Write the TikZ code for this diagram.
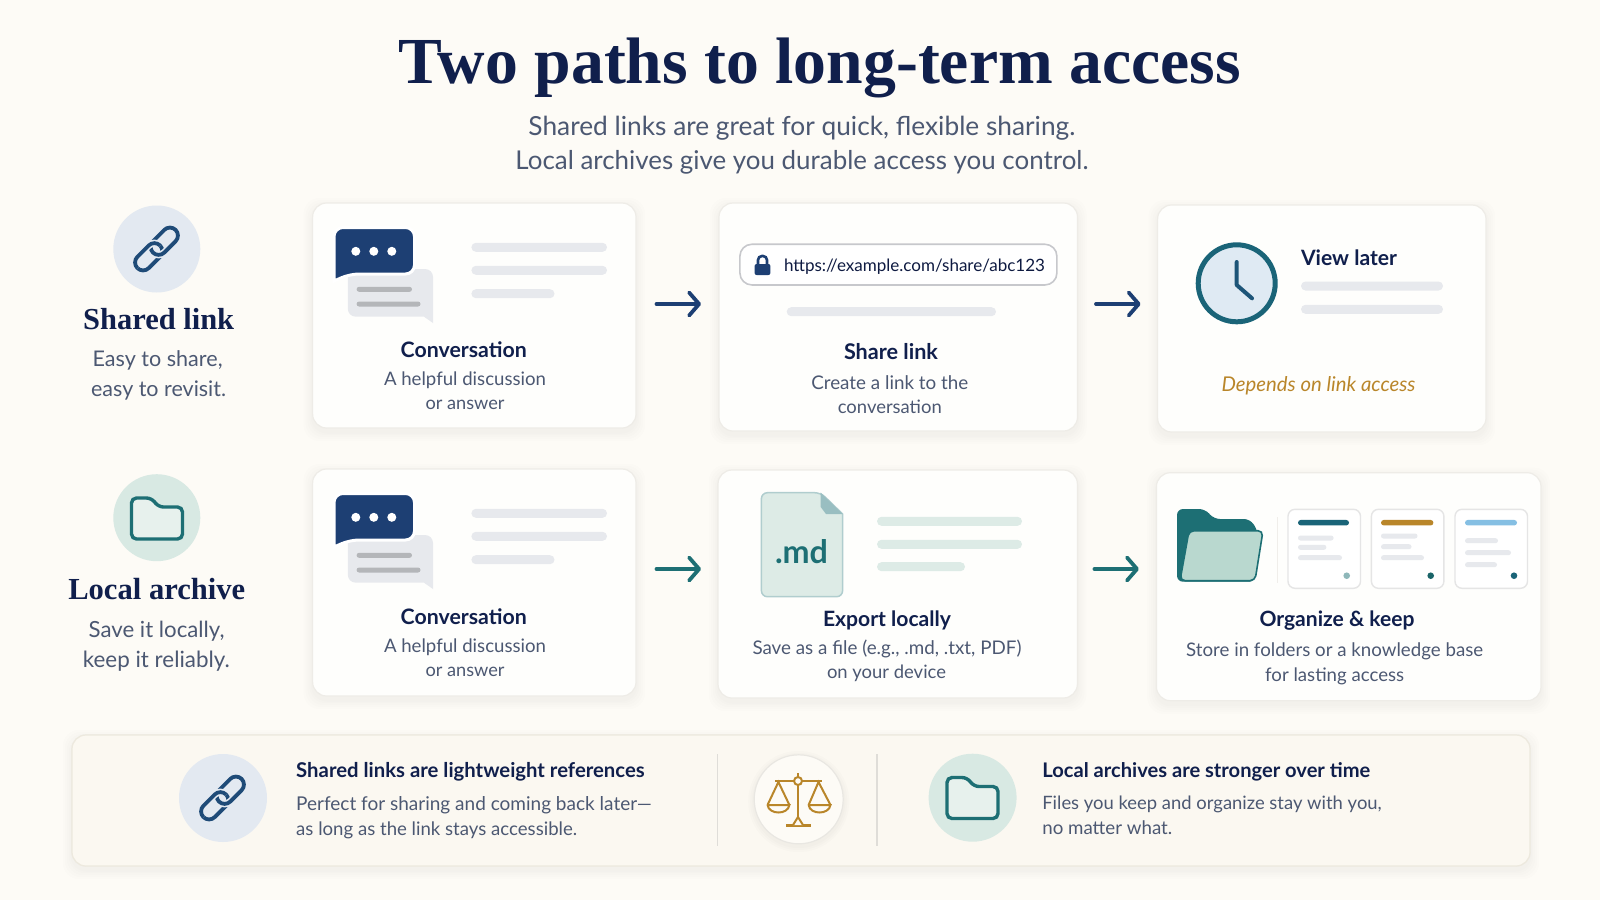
\documentclass[tikz,border=0pt]{standalone}
\usepackage{fontspec}
\usepackage{graphicx}
\usetikzlibrary{arrows.meta}
\setmainfont{Lato}
\newfontfamily\serifhead{Liberation Serif}
\definecolor{bgc}{HTML}{FDFBF6}
\definecolor{navy}{HTML}{101F4C}
\definecolor{bodyc}{HTML}{4C5872}
\definecolor{barc}{HTML}{E7E9ED}
\definecolor{tealbar}{HTML}{DDEBE6}
\definecolor{linkc}{HTML}{1F4B78}
\definecolor{circlink}{HTML}{E3E9F1}
\definecolor{circfold}{HTML}{D8E9E3}
\definecolor{teal}{HTML}{1D6F74}
\definecolor{bubble}{HTML}{1D3F73}
\definecolor{gold}{HTML}{B9862A}
\definecolor{clockc}{HTML}{1A6478}
\definecolor{clockfill}{HTML}{DFEAF3}
\definecolor{folderfront}{HTML}{B9D8CF}
\definecolor{skybar}{HTML}{85BFE3}
\definecolor{barfill}{HTML}{FBF8F1}
\definecolor{barline}{HTML}{EDE9DE}
\tikzset{
  cardbox/.style={draw=#1,fill=white!70!bgc,rounded corners=14pt,line width=1.2pt,inner sep=0pt,outer sep=0pt},
  cardbox/.default={black!6!bgc},
  labelnode/.style={inner sep=0pt,outer sep=0pt,font=\fontsize{20}{24}\selectfont},
  titletext/.style={labelnode,text=navy,font=\serifhead\bfseries\fontsize{20}{24}\selectfont},
  headtext/.style={labelnode,text=navy,font=\bfseries\fontsize{20}{24}\selectfont},
  bodytext/.style={labelnode,text=bodyc},
  flow/.style={-{Straight Barb[length=10pt,width=23pt,round]},line width=3.8pt,line cap=round},
  iconpill/.style={rounded corners=8pt,line width=3.8pt},
  scaleline/.style={draw=gold,line width=2.5pt}
}
\newcommand{\softcard}[5]{%
  \pgfmathsetmacro{\cw}{#4-#2}\pgfmathsetmacro{\ch}{#5-#3}%
  \pgfmathsetmacro{\cx}{(#2+#4)/2}\pgfmathsetmacro{\cy}{(#3+#5)/2}%
  \foreach \s in {9,7,5,3,1.5}{%
    \fill[black!55!bgc,opacity=.012,rounded corners=16pt] (#2-\s,#3-\s+4) rectangle (#4+\s,#5+\s+4);}%
  \node[cardbox,minimum width=\cw pt,minimum height=\ch pt] (#1) at (\cx,\cy) {};}
\newcommand{\lbl}[7]{\node[#6,anchor=#4] (#1) at (#2,#3) {\resizebox{#5pt}{!}{#7}};}
\newcommand{\pill}[5]{%
  \pgfmathsetmacro{\pa}{#3-#4/2}\pgfmathsetmacro{\pb}{#3+#4/2}\pgfmathsetmacro{\pr}{#4/2-0.01}%
  \fill[#5,rounded corners=\pr pt] (#1,\pa) rectangle (#2,\pb);}
\newcommand{\linkicon}[3]{%
  \begin{scope}[shift={(#1,#2)},rotate=45]
    \draw[iconpill,linkc] (-27,-8) rectangle (5,8);
    \begin{scope}\clip (-40,0) rectangle (40,14);
      \draw[iconpill,#3,line width=7pt] (-5,-8) rectangle (27,8);\end{scope}
    \draw[iconpill,linkc] (-5,-8) rectangle (27,8);
    \begin{scope}\clip (-40,0) rectangle (40,-14);
      \draw[iconpill,#3,line width=7pt] (-27,-8) rectangle (5,8);
      \draw[iconpill,linkc] (-27,-8) rectangle (5,8);\end{scope}
  \end{scope}}
\newcommand{\folderline}[2]{%
  \draw[teal,fill=tealbar!70!white,line width=3.4pt,rounded corners=5pt,shift={(#1,#2)}]
    (0,41) -- (0,0) -- (20,0) -- (27,9) -- (51,9) -- (51,41) -- cycle;}
\newcommand{\chat}[1]{%
  \begin{scope}[shift={(0,#1)}]
    \fill[barc,rounded corners=8pt] (347.8,269) -- (433,269) -- (433,323) [sharp corners] -- (433,323) -- (424,316.7) [rounded corners=8pt] -- (347.8,316.7) -- cycle;
    \draw[white,line width=3pt,fill=bubble,rounded corners=9pt] (334,227.5) -- (414.5,227.5) -- (414.5,274) -- (350,274) [sharp corners] -- (334,281) [rounded corners=9pt] -- cycle;
    \foreach \dx in {355.8,373.8,391.8}{\fill[white] (\dx,251.3) circle (4.5pt);}
    \pill{356.6}{412}{289.3}{5}{black!22!barc}
    \pill{356.6}{420.5}{304}{5}{black!22!barc}
    \pill{471.4}{607}{247.3}{9}{barc}
    \pill{471.4}{607}{270.3}{9}{barc}
    \pill{471.4}{554.5}{293.7}{9}{barc}
  \end{scope}}
\begin{document}
\begin{tikzpicture}[x=1pt,y=-1pt]
\useasboundingbox (0,0) rectangle (1600,900);
\fill[bgc] (0,0) rectangle (1600,900);
% header
\lbl{title}{820}{83.5}{base}{842}{titletext}{Two paths to long-term access}
\lbl{subone}{802}{135}{base}{547}{bodytext}{Shared links are great for quick, flexible sharing.}
\lbl{subtwo}{802}{169}{base}{573}{bodytext}{Local archives give you durable access you control.}
% row labels
\fill[circlink] (156.8,249) circle (43.5pt);
\linkicon{156.5}{249}{circlink}
\lbl{sharedt}{158.7}{329}{base}{151}{titletext}{Shared link}
\lbl{shareda}{157.6}{366}{base}{130}{bodytext}{Easy to share,}
\lbl{sharedb}{158.6}{396}{base}{135}{bodytext}{easy to revisit.}
\fill[circfold] (156.8,517.7) circle (43.5pt);
\folderline{131.5}{498}
\lbl{localt}{156.8}{599}{base}{177}{titletext}{Local archive}
\lbl{locala}{156.6}{637}{base}{136}{bodytext}{Save it locally,}
\lbl{localb}{156.4}{667}{base}{147}{bodytext}{keep it reliably.}
% cards
\softcard{cardA}{312.6}{203}{636}{428}
\softcard{cardB}{719}{203}{1077.5}{431}
\softcard{cardC}{1157.6}{205}{1486}{432}
\softcard{cardD}{312.6}{469}{636}{696}
\softcard{cardE}{718}{470}{1077.4}{698}
\softcard{cardF}{1156.4}{472.7}{1541}{700.7}
% arrows
\draw[flow,bubble] ([xshift=20.5pt,yshift=11.5pt]cardA.east) -- ([xshift=-18pt,yshift=13pt]cardB.west);
\draw[flow,bubble] ([xshift=18.5pt,yshift=13pt]cardB.east) -- ([xshift=-17pt,yshift=14.5pt]cardC.west);
\draw[flow,teal] ([xshift=20.5pt,yshift=13.5pt]cardD.east) -- ([xshift=-17pt,yshift=15pt]cardE.west);
\draw[flow,teal] ([xshift=17pt,yshift=15pt]cardE.east) -- ([xshift=-17.5pt,yshift=17.7pt]cardF.west);
% card A
\chat{0}
\lbl{convA}{463.7}{357}{base}{126}{headtext}{Conversation}
\lbl{convAa}{465}{385}{base}{162}{bodytext}{A helpful discussion}
\lbl{convAb}{465}{409}{base}{79}{bodytext}{or answer}
% card B
\node[draw=black!14!barc,fill=white,line width=1.6pt,rounded corners=12pt,minimum width=317pt,minimum height=40.7pt,inner sep=0pt] (urlbox) at (898.4,264.6) {};
\fill[bubble,rounded corners=2pt] (754.6,264) rectangle (770.4,275);
\draw[bubble,line width=2.6pt,rounded corners=4pt] (758,265) -- (758,256) -- (767,256) -- (767,265);
\lbl{urltext}{784}{271}{base west}{261}{labelnode,text=navy!85!black}{https://example.com/share/abc123}
\pill{786.7}{996}{311.7}{9}{barc}
\lbl{shareh}{891}{359}{base}{94}{headtext}{Share link}
\lbl{sharea}{889.8}{389}{base}{157}{bodytext}{Create a link to the}
\lbl{shareb}{889.8}{413}{base}{104}{bodytext}{conversation}
% card C
\draw[clockc,fill=clockfill,line width=5pt] (1236.7,283.3) circle (38.5pt);
\draw[linkc!60!clockc,line width=4pt,line cap=round,line join=round] (1236.7,262) -- (1236.7,285) -- (1252,298.3);
\lbl{viewlater}{1301}{265}{base west}{96}{headtext}{View later}
\pill{1301}{1443}{286}{9}{barc}
\pill{1301}{1443}{309.3}{9}{barc}
\lbl{depends}{1318.5}{391}{base}{194}{labelnode,text=gold,font=\itshape\fontsize{20}{24}\selectfont}{Depends on link access}
% card D
\chat{266}
\lbl{convD}{463.7}{624}{base}{126}{headtext}{Conversation}
\lbl{convDa}{465}{652}{base}{162}{bodytext}{A helpful discussion}
\lbl{convDb}{465}{676.5}{base}{79}{bodytext}{or answer}
% card E
\draw[teal!35!white,fill=tealbar,line width=1.5pt,rounded corners=6pt] (761.4,596.7) -- (761.4,492.7) -- (820.7,492.7) [sharp corners] -- (842.6,514) [rounded corners=6pt] -- (842.6,596.7) -- cycle;
\fill[teal!45!white] (820.7,492.7) -- (842.6,514) -- (826,514) -- (820.7,507) -- cycle;
\lbl{md}{801.5}{563}{base}{53}{labelnode,text=teal,font=\bfseries\fontsize{20}{24}\selectfont}{.md}
\pill{877}{1022}{521.3}{9}{tealbar}
\pill{877}{1022}{544.3}{9}{tealbar}
\pill{877}{965}{566.7}{9}{tealbar}
\lbl{exporth}{887}{626}{base}{128}{headtext}{Export locally}
\lbl{exporta}{887}{654}{base}{269}{bodytext}{Save as a file (e.g., .md, .txt, PDF)}
\lbl{exportb}{886.5}{678.5}{base}{119}{bodytext}{on your device}
% card F
\fill[teal,rounded corners=6pt] (1177,581.7) -- (1177,509) -- (1205,509) -- (1214,519) -- (1250,519) -- (1258,531) -- (1255,581.7) -- cycle;
\draw[teal,fill=folderfront,line width=1.6pt,rounded corners=5pt] (1189,530.7) -- (1263,530.7) -- (1255,580.7) -- (1180,580.7) -- cycle;
\draw[black!5!bgc,line width=1pt] (1277,517) -- (1277,583);
\foreach \mx in {1288,1371.4,1455}{
  \draw[black!10!white,fill=white,line width=1.4pt,rounded corners=7pt] (\mx,509.3) rectangle (\mx+72.5,588.3);}
\pill{1298}{1349}{522.7}{5.5}{clockc}
\pill{1381}{1433.4}{522.7}{5.5}{gold}
\pill{1465}{1517}{522.7}{5.5}{skybar}
\pill{1298}{1333.6}{538}{5}{barc}
\pill{1298}{1326.4}{547.3}{5}{barc}
\pill{1298}{1342}{557.7}{5}{barc}
\pill{1381}{1417.5}{536}{5}{barc}
\pill{1381}{1411.5}{546.7}{5}{barc}
\pill{1381}{1424}{557.7}{5}{barc}
\pill{1465}{1498}{540.7}{5}{barc}
\pill{1465}{1511}{552.7}{5}{barc}
\pill{1465}{1497}{564.7}{5}{barc}
\fill[teal!50!white] (1346.7,575.7) circle (3.3pt);
\fill[teal!90!black] (1430.7,575.7) circle (3.3pt);
\fill[clockc] (1514,575.7) circle (3.3pt);
\lbl{orgh}{1337}{626}{base}{155}{headtext}{Organize \& keep}
\lbl{orga}{1334.7}{656}{base}{297}{bodytext}{Store in folders or a knowledge base}
\lbl{orgb}{1334.7}{681}{base}{139}{bodytext}{for lasting access}
% bottom bar
\softcard{barbox}{72}{735}{1530}{866}
\node[cardbox=barline,fill=barfill,minimum width=1458pt,minimum height=131pt] (barboxb) at (801,800.5) {};
\fill[circlink] (223,798) circle (44pt);
\linkicon{222.5}{798}{circlink}
\lbl{noteLh}{296.2}{777}{base west}{348.5}{headtext}{Shared links are lightweight references}
\lbl{noteLa}{296.2}{810.5}{base west}{355.6}{bodytext}{Perfect for sharing and coming back later—}
\lbl{noteLb}{296.2}{835}{base west}{281}{bodytext}{as long as the link stays accessible.}
\draw[black!12!bgc,line width=1.2pt] (717.7,754) -- (717.7,846);
\draw[black!12!bgc,line width=1.2pt] (877,754) -- (877,846);
\foreach \s in {6,4,2}{\fill[black!55!bgc,opacity=.02] (798.7,801.5) circle (44.5pt+\s pt);}
\draw[black!8!bgc,fill=bgc,line width=1.2pt] (798.7,799.3) circle (44.5pt);
% scales
\draw[scaleline] (798,773) -- (798,825);
\draw[scaleline] (775,781) -- (822,781);
\draw[scaleline,line width=3pt] (786,825.5) -- (811,825.5);
\draw[scaleline,line width=2pt,fill=bgc] (793,825) -- (798,817) -- (803,825);
\draw[scaleline,fill=bgc,line width=2pt] (798,781) circle (4pt);
\draw[scaleline,line width=2pt] (767.5,805) -- (778.4,782) -- (789.4,805);
\draw[scaleline,line width=2pt] (767.5,805) -- (789.4,805) .. controls (788,815) and (769,815) .. (767.5,805);
\draw[scaleline,line width=2pt] (808.6,805) -- (818.5,782) -- (830.5,805);
\draw[scaleline,line width=2pt] (808.6,805) -- (830.5,805) .. controls (829,815) and (810,815) .. (808.6,805);
\fill[circfold] (972.6,797.7) circle (44pt);
\folderline{947}{777.5}
\lbl{noteRh}{1042.3}{777}{base west}{328}{headtext}{Local archives are stronger over time}
\lbl{noteRa}{1042.3}{809.5}{base west}{339.5}{bodytext}{Files you keep and organize stay with you,}
\lbl{noteRb}{1042.3}{834.5}{base west}{130}{bodytext}{no matter what.}
\end{tikzpicture}
\end{document}
